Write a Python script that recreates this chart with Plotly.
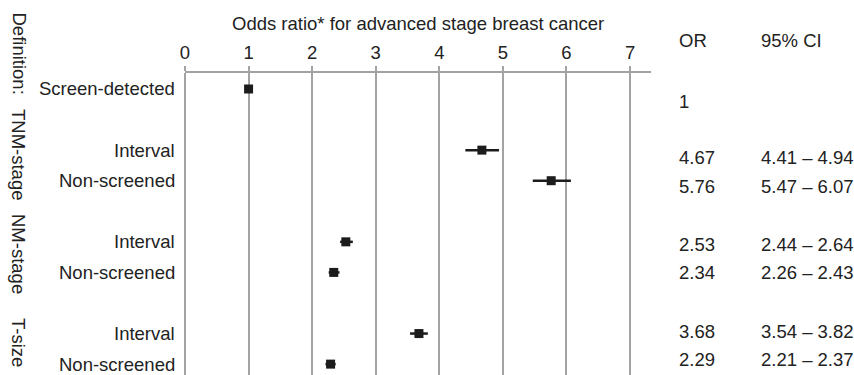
import plotly.graph_objects as go

# ---- data ----
row_labels = ["Screen-detected", "Interval", "Non-screened", "Interval",
              "Non-screened", "Interval", "Non-screened"]
odds_ratio = [1.00, 4.67, 5.76, 2.53, 2.34, 3.68, 2.29]
ci_low = [1.00, 4.41, 5.47, 2.44, 2.26, 3.54, 2.21]
ci_high = [1.00, 4.94, 6.07, 2.64, 2.43, 3.82, 2.37]
or_text = ["1", "4.67", "5.76", "2.53", "2.34", "3.68", "2.29"]
ci_text = ["", "4.41 \u2013 4.94", "5.47 \u2013 6.07", "2.44 \u2013 2.64",
           "2.26 \u2013 2.43", "3.54 \u2013 3.82", "2.21 \u2013 2.37"]
group_labels = ["Definition:", "TNM-stage", "NM-stage", "T-size"]
x_ticks = [0, 1, 2, 3, 4, 5, 6, 7]

# ---- layout helpers (positions) ----
row_pos = [0, 2, 3, 5, 6, 8, 9]
W, H = 854, 375
ML, MR, MT, MB = 185, 203, 73, 0
PW, PH = W - ML - MR, H - MT - MB
def px_to_paper_x(px):
    return (px - ML) / PW
def px_to_paper_y(py):
    return (H - MB - py) / PH

group_px_y = [53.5, 155, 254, 342]
table_px_y = [101, 157, 186, 244, 272, 331, 359]

FONT = "Liberation Sans, Arial, Helvetica, sans-serif"
TXT = "#222222"
GRID = "#a3a3a3"
MARK = "#1c1c1c"
FS = 18.5

fig = go.Figure()
fig.add_trace(go.Scatter(
    x=odds_ratio, y=row_pos, mode="markers",
    marker=dict(symbol="square", size=9, color=MARK),
    error_x=dict(type="data", symmetric=False,
                 array=[h - o for h, o in zip(ci_high, odds_ratio)],
                 arrayminus=[o - l for o, l in zip(odds_ratio, ci_low)],
                 thickness=2.5, width=0, color=MARK),
    cliponaxis=False, showlegend=False, hoverinfo="skip"))

ann = []
for lab, y in zip(row_labels, row_pos):
    ann.append(dict(text=lab, xref="paper", yref="y", x=0, y=y, xshift=-8,
                    xanchor="right", yanchor="middle", showarrow=False,
                    font=dict(size=FS, color=TXT, family=FONT)))
for lab, py in zip(group_labels, group_px_y):
    ann.append(dict(text=lab, xref="paper", yref="paper",
                    x=px_to_paper_x(19), y=px_to_paper_y(py), textangle=90,
                    xanchor="center", yanchor="middle", showarrow=False,
                    font=dict(size=FS, color=TXT, family=FONT)))
ann.append(dict(text="Odds ratio* for advanced stage breast cancer",
                xref="paper", yref="paper", x=0.5, y=px_to_paper_y(23),
                xanchor="center", yanchor="middle", showarrow=False,
                font=dict(size=FS, color=TXT, family=FONT)))
ann.append(dict(text="OR", xref="paper", yref="paper", x=px_to_paper_x(677),
                y=px_to_paper_y(41), xanchor="left", yanchor="middle",
                showarrow=False, font=dict(size=FS, color=TXT, family=FONT)))
ann.append(dict(text="95% CI", xref="paper", yref="paper", x=px_to_paper_x(759),
                y=px_to_paper_y(41), xanchor="left", yanchor="middle",
                showarrow=False, font=dict(size=FS, color=TXT, family=FONT)))
for o, c, py in zip(or_text, ci_text, table_px_y):
    ann.append(dict(text=o, xref="paper", yref="paper", x=px_to_paper_x(677),
                    y=px_to_paper_y(py), xanchor="left", yanchor="middle",
                    showarrow=False, font=dict(size=FS, color=TXT, family=FONT)))
    if c:
        ann.append(dict(text=c, xref="paper", yref="paper", x=px_to_paper_x(759),
                        y=px_to_paper_y(py), xanchor="left", yanchor="middle",
                        showarrow=False, font=dict(size=FS, color=TXT, family=FONT)))

fig.update_layout(
    width=W, height=H, margin=dict(l=ML, r=MR, t=MT, b=MB),
    paper_bgcolor="white", plot_bgcolor="white",
    font=dict(family=FONT, size=FS, color=TXT),
    xaxis=dict(range=[0, 7.33], side="top", tickvals=x_ticks,
               ticktext=[str(t) for t in x_ticks],
               showgrid=True, gridcolor=GRID, gridwidth=1.5,
               zeroline=True, zerolinecolor=GRID, zerolinewidth=1.5,
               showline=True, linecolor=GRID, linewidth=1.5,
               ticks="outside", ticklen=5, tickcolor=GRID, tickwidth=1.5,
               tickfont=dict(size=FS, color=TXT, family=FONT), fixedrange=True),
    yaxis=dict(range=[9.356, -0.523], showgrid=False, zeroline=False,
               showline=False, showticklabels=False, ticks="", fixedrange=True),
    annotations=ann,
)

fig.write_html(
    "out.html",
    config={"displayModeBar": False},
    post_script="document.body.style.margin='0';document.body.style.overflow='hidden';",
)
